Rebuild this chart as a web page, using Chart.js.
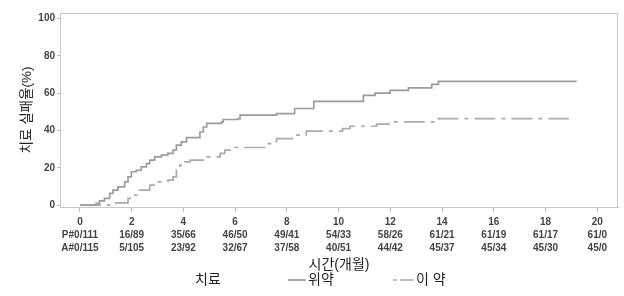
<!DOCTYPE html>
<html>
<head>
<meta charset="utf-8">
<script src="https://cdn.jsdelivr.net/npm/chart.js@4.4.0/dist/chart.umd.min.js"></script>
<style>
  html, body { margin: 0; padding: 0; background: #fff; }
</style>
</head>
<body>
<canvas id="failChart" width="624" height="296"></canvas>
<script>
// Kaplan-Meier type cumulative treatment failure (%)
const placeboMonths = [0, 0.62, 0.76, 0.95, 1.15, 1.28, 1.47, 1.73, 1.86, 1.99, 2.18, 2.37, 2.57, 2.7, 2.89, 3.15, 3.4, 3.6, 3.73, 3.92, 4.12, 4.64, 4.77, 4.9, 5.48, 5.54, 6.12, 6.19, 7.6, 8.3, 9.04, 10.96, 11.41, 11.99, 12.7, 13.6, 13.86, 19.2];
const placeboFail   = [0, 0.9, 2.3, 3.6, 6.3, 8.0, 9.8, 12.5, 15.1, 17.9, 18.7, 20.5, 22.3, 24.1, 25.9, 26.8, 27.7, 29.5, 32.2, 33.9, 36.2, 39.2, 41.9, 43.8, 44.6, 45.9, 46.4, 48.2, 49.1, 51.8, 55.6, 58.8, 60.0, 61.5, 62.9, 64.7, 66.3, 66.3];

const activeMonths = [0, 1.15, 1.86, 1.99, 2.31, 2.7, 2.95, 3.4, 3.6, 3.73, 3.86, 4.05, 4.26, 4.9, 5.42, 5.6, 5.93, 7.22, 7.6, 8.3, 8.75, 10.15, 10.44, 11.47, 11.93, 13.86, 18.9];
const activeFail   = [0, 1.2, 3.6, 5.3, 8.0, 10.7, 12.5, 13.4, 15.2, 18.8, 21.4, 23.2, 24.1, 25.9, 27.7, 29.5, 30.9, 33.0, 35.7, 37.5, 39.7, 41.0, 42.3, 43.4, 44.6, 46.4, 46.4];

// x ticks and the numbers-at-risk table printed under them
const monthTicks  = [0, 2, 4, 6, 8, 10, 12, 14, 16, 18, 20];
const monthLabels = ['0', '2', '4', '6', '8', '10', '12', '14', '16', '18', '20'];
const placeboRisk = ['P#0/111', '16/89', '35/66', '46/50', '49/41', '54/33', '58/26', '61/21', '61/19', '61/17', '61/0'];
const activeRisk  = ['A#0/115', '5/105', '23/92', '32/67', '37/58', '40/51', '44/42', '45/37', '45/34', '45/30', '45/0'];
const failTicks   = [0, 20, 40, 60, 80, 100];

const seriesNames = ['위약', '이 약'];
const legendTitle = '치료';

const FONT = "'Liberation Sans', 'Noto Sans CJK KR', sans-serif";

const toPoints = (xs, ys) => xs.map((x, i) => ({ x: x, y: ys[i] }));

// frame round the plot + the inline legend at the bottom
const framePlugin = {
  id: 'framePlugin',
  afterDraw(chart) {
    const { ctx, chartArea: a } = chart;
    ctx.save();
    ctx.strokeStyle = '#c8c8c8';
    ctx.lineWidth = 1;
    ctx.strokeRect(a.left + 0.5, a.top + 0.5, a.width - 1, a.height);

    ctx.font = '14px ' + FONT;
    ctx.fillStyle = '#222';
    ctx.textBaseline = 'middle';
    const ly = 280;
    ctx.fillText(legendTitle, 195, ly);
    const samples = [[288, 306, 308], [393, 414, 416]];
    chart.data.datasets.forEach((ds, i) => {
      const [x0, x1, tx] = samples[i];
      ctx.strokeStyle = ds.borderColor;
      ctx.lineWidth = ds.borderWidth;
      ctx.setLineDash(i === 1 ? [4, 3, 10, 0] : []);
      ctx.beginPath();
      ctx.moveTo(x0, ly);
      ctx.lineTo(x1, ly);
      ctx.stroke();
      ctx.setLineDash([]);
      ctx.fillText(seriesNames[i], tx, ly);
    });
    ctx.restore();
  }
};

new Chart(document.getElementById('failChart'), {
  type: 'line',
  data: {
    datasets: [
      {
        label: seriesNames[0],
        data: toPoints(placeboMonths, placeboFail),
        stepped: true,
        borderColor: '#9c9c9c',
        borderWidth: 1.7,
        pointRadius: 0,
        fill: false
      },
      {
        label: seriesNames[1],
        data: toPoints(activeMonths, activeFail),
        stepped: true,
        borderColor: '#ababab',
        borderWidth: 1.7,
        borderDash: [21, 6, 4, 6],
        pointRadius: 0,
        fill: false
      }
    ]
  },
  options: {
    responsive: false,
    animation: false,
    layout: { padding: { left: 0, right: 6, top: 13, bottom: 22 } },
    plugins: {
      legend: { display: false },
      tooltip: { enabled: false }
    },
    scales: {
      x: {
        type: 'linear',
        min: -0.77,
        max: 20.8,
        afterBuildTicks: (s) => { s.ticks = monthTicks.map(v => ({ value: v })); },
        afterFit: (s) => { s.height = 67; },
        ticks: {
          autoSkip: false,
          maxRotation: 0,
          padding: 4,
          color: '#444',
          font: { family: FONT, size: 10, weight: 'bold', lineHeight: 1.28 },
          callback: (v, i) => [monthLabels[i], placeboRisk[i], activeRisk[i]]
        },
        grid: { drawOnChartArea: false, tickLength: 5, color: '#bbb' },
        border: { color: '#c8c8c8' },
        title: {
          display: true,
          text: '시간(개월)',
          color: '#222',
          font: { family: FONT, size: 14 },
          padding: { top: 0, bottom: 0 }
        }
      },
      y: {
        min: -1,
        max: 103,
        afterBuildTicks: (s) => { s.ticks = failTicks.map(v => ({ value: v })); },
        afterFit: (s) => { s.width = 60; },
        ticks: {
          padding: 2,
          color: '#444',
          font: { family: FONT, size: 10, weight: 'bold' }
        },
        grid: { drawOnChartArea: false, tickLength: 3, color: '#bbb' },
        border: { color: '#c8c8c8' },
        title: {
          display: true,
          text: '치료 실패율(%)',
          color: '#222',
          font: { family: FONT, size: 13.5 },
          padding: { top: 19, bottom: 0 }
        }
      }
    }
  },
  plugins: [framePlugin]
});
</script>
</body>
</html>
